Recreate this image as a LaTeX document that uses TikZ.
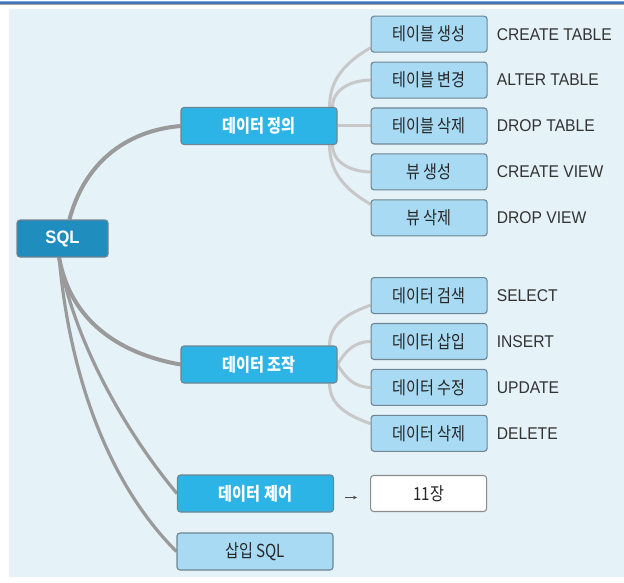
\documentclass[tikz,border=0pt]{standalone}
\usepackage{fontspec}
\setmainfont{Liberation Sans}[FakeStretch=0.92]
\newfontfamily\krfont{Noto Sans CJK KR}[FakeStretch=0.84]
\usetikzlibrary{arrows.meta,positioning,backgrounds}
\definecolor{paneBlue}{HTML}{E5F2F8}
\definecolor{rulerBlue}{HTML}{4674B6}
\definecolor{rulerSky}{HTML}{77A5DA}
\definecolor{rulerGray}{HTML}{9DA5AE}
\definecolor{rootTeal}{HTML}{1F8DBD}
\definecolor{topicCyan}{HTML}{2DB4E6}
\definecolor{leafSky}{HTML}{A8DBF3}
\definecolor{edgeGray}{HTML}{6F8593}
\definecolor{trunkGray}{HTML}{9A9A9A}
\definecolor{twigGray}{HTML}{C8C8C8}
\tikzset{
  box/.style={draw=edgeGray, rounded corners=3pt, line width=1.1pt, inner sep=0pt,
    minimum height=37pt},
  rootbox/.style={box, fill=rootTeal, minimum width=91pt, text=white,
    font=\fontsize{18}{20}\selectfont\bfseries},
  topicbox/.style={box, fill=topicCyan, minimum width=156pt, text=white,
    font=\krfont\fontsize{18}{20}\selectfont\bfseries},
  leafbox/.style={box, fill=leafSky, minimum width=116pt, minimum height=36pt,
    text=black!85, font=\krfont\fontsize{18}{20}\selectfont},
  notebox/.style={leafbox, fill=white, draw=black!45},
  cmdtext/.style={inner sep=0pt, text=black!80, font=\fontsize{17}{19}\selectfont},
  trunk/.style={draw=trunkGray, line width=4pt},
  twig/.style={draw=twigGray, line width=3pt},
  pointer/.style={-{Stealth[length=4pt,width=3.5pt]}, line width=0.8pt, draw=black!70}
}
\begin{document}
\begin{tikzpicture}[x=1pt, y=-1pt, node distance=8.8pt and 33pt]
  \useasboundingbox (0,0) rectangle (624,583);

  \node[rootbox] (sql) at (62.5,238.5) {SQL};
  \node[topicbox] (define) at (259,126) {데이터 정의};
  \node[topicbox] (manip) at (259,364.5) {데이터 조작};
  \node[topicbox] (control) at (255.5,493.5) {데이터 제어};
  \node[leafbox, minimum width=156pt, minimum height=37pt] (embed) at (255,551.5) {삽입 SQL};

  % DDL statements
  \node[leafbox, right=of define] (dt) {테이블 삭제};
  \node[leafbox, above=of dt] (at) {테이블 변경};
  \node[leafbox, above=of at] (ct) {테이블 생성};
  \node[leafbox, below=of dt] (cv) {뷰 생성};
  \node[leafbox, below=of cv] (dv) {뷰 삭제};

  % DML statements
  \node[leafbox, right=of manip, yshift=23pt] (ins) {데이터 삽입};
  \node[leafbox, above=of ins] (sel) {데이터 검색};
  \node[leafbox, below=of ins] (upd) {데이터 수정};
  \node[leafbox, below=of upd] (del) {데이터 삭제};

  \node[notebox, right=36pt of control] (ch11) {11장};

  \foreach \n/\t in {ct/CREATE TABLE, at/ALTER TABLE, dt/DROP TABLE, cv/CREATE VIEW,
      dv/DROP VIEW, sel/SELECT, ins/INSERT, upd/UPDATE, del/DELETE}{
    \node[cmdtext, right=9pt of \n] (\n-cmd) {\t};
  }

  \draw[pointer, shorten <=11pt, shorten >=13pt] ([yshift=-4pt]control.east) -- ([yshift=-4pt]ch11.west);

  \begin{scope}[on background layer]
    \fill[paneBlue] (9,9) rectangle (624,577);
    \fill[rulerSky] (0,1) rectangle (624,2.4);
    \fill[rulerBlue] (0,2.4) rectangle (624,3.8);
    \fill[rulerGray] (0,3.8) rectangle (624,4.6);

    \draw[trunk] (sql.70) to[out=75,in=185] (define.west);
    \draw[trunk] (sql.-100) to[out=-80,in=170] (manip.west);
    \draw[trunk, line width=3.2pt] (sql.-100) to[out=-80,in=130,looseness=0.8] (control.west);
    \draw[trunk, line width=3.2pt] (sql.-100) to[out=-85,in=135,looseness=0.85] (embed.west);

    \draw[twig] (define.east) -- (dt.west);
    \draw[twig] ([xshift=-5pt]define.north east) to[out=90,in=180] (at.west);
    \draw[twig] ([xshift=-8pt]define.north east) to[out=90,in=210] ([yshift=5pt]ct.south west);
    \draw[twig] ([xshift=-5pt]define.south east) to[out=-90,in=180] (cv.west);
    \draw[twig] ([xshift=-8pt]define.south east) to[out=-90,in=150] ([yshift=-5pt]dv.north west);

    \draw[twig] ([xshift=-8pt]manip.north east) to[out=90,in=200] ([yshift=9pt]sel.south west);
    \draw[twig] (manip.east) to[out=60,in=180] (ins.west);
    \draw[twig] (manip.east) to[out=-60,in=180] (upd.west);
    \draw[twig] ([xshift=-8pt]manip.south east) to[out=-90,in=160] ([yshift=-9pt]del.north west);
  \end{scope}
\end{tikzpicture}
\end{document}
